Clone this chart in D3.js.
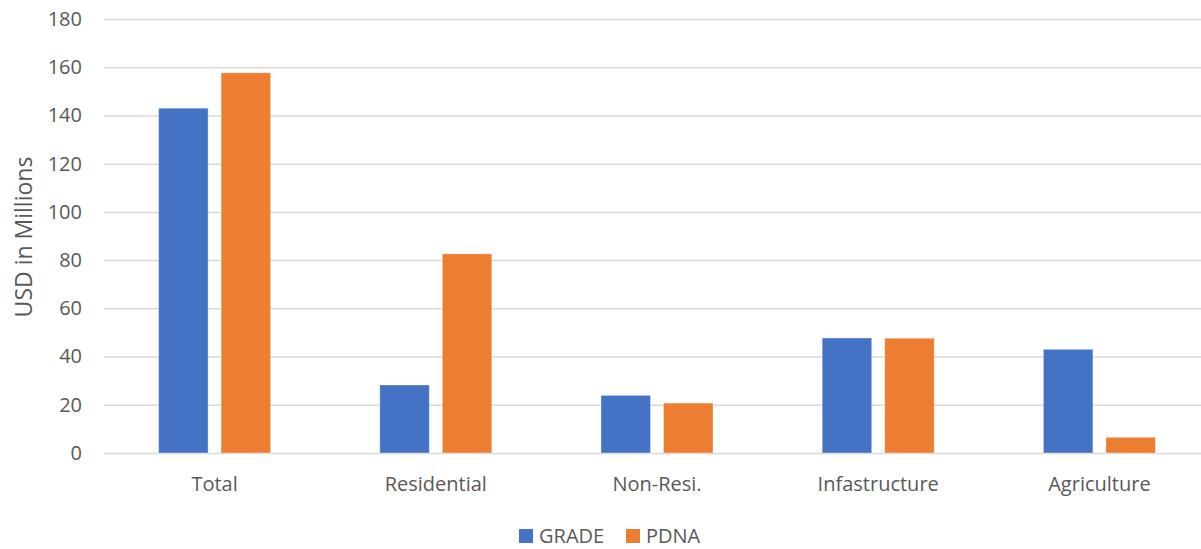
<!DOCTYPE html>
<html>
<head>
<meta charset="utf-8">
<script src="https://cdn.jsdelivr.net/npm/d3@7/dist/d3.min.js"></script>
<style>
  html, body { margin: 0; padding: 0; background: #fff; }
  svg { display: block; }
  text { font-family: "Open Sans", "Noto Sans", sans-serif; fill: #595959; }
</style>
</head>
<body>
<svg id="chart" width="1201" height="549"></svg>
<script>
// Damage estimates by sector (USD millions)
const categories = ["Total", "Residential", "Non-Resi.", "Infastructure", "Agriculture"];
const seriesNames = ["GRADE", "PDNA"];
const gradeValues = [143.0, 28.2, 23.9, 47.7, 43.0];
const pdnaValues = [157.7, 82.6, 20.7, 47.6, 6.5];
const yTicks = [0, 20, 40, 60, 80, 100, 120, 140, 160, 180];
const colors = ["#4472C4", "#ED7D31"];

const FONT = "'Open Sans', 'Noto Sans', sans-serif";
const FS = "20px";

const svg = d3.select("#chart");
const margin = { left: 104, right: -9, top: 19, bottom: 96 };
const W = 1201, H = 549;

const x = d3.scaleBand()
  .domain(categories)
  .range([margin.left, W - margin.right])
  .paddingInner(0).paddingOuter(0);

const y = d3.scaleLinear()
  .domain([0, 180])
  .range([H - margin.bottom, margin.top]);

// offsets of the two series within each category
const barW = 49.5, barGap = 13;
const xs = d3.scaleOrdinal()
  .domain(seriesNames)
  .range([-(barW + barGap / 2), barGap / 2]);

// gridlines and value labels
const yAxis = d3.axisLeft(y).tickValues(yTicks).tickSize(-(x.range()[1] - x.range()[0])).tickPadding(22);
const gy = svg.append("g")
  .attr("transform", `translate(${margin.left},0)`)
  .call(yAxis);
gy.select(".domain").remove();
gy.selectAll(".tick line").attr("stroke", "#D9D9D9").attr("stroke-width", 1.5);
gy.selectAll(".tick text")
  .attr("fill", "#595959")
  .style("font-size", FS)
  .style("font-family", FONT);

// bars
const rows = categories.map((c, i) => ({
  cat: c,
  vals: [
    { s: "GRADE", v: gradeValues[i] },
    { s: "PDNA", v: pdnaValues[i] }
  ]
}));

const groups = svg.append("g").selectAll("g")
  .data(rows).join("g")
  .attr("transform", d => `translate(${x(d.cat) + x.bandwidth() / 2},0)`);

groups.selectAll("rect")
  .data(d => d.vals).join("rect")
  .attr("x", d => xs(d.s))
  .attr("width", barW)
  .attr("y", d => y(d.v))
  .attr("height", d => y(0) - y(d.v))
  .attr("fill", (d, i) => colors[i])
  .attr("stroke", "#fff")
  .attr("stroke-opacity", 0.35)
  .attr("stroke-width", 1);

// category labels
const xAxis = d3.axisBottom(x).tickSize(0).tickPadding(24);
const gx = svg.append("g")
  .attr("transform", `translate(0,${y(0)})`)
  .call(xAxis);
gx.select(".domain").remove();
gx.selectAll(".tick text")
  .attr("fill", "#595959")
  .style("font-size", FS)
  .style("font-family", FONT);

// y axis title
svg.append("text")
  .attr("transform", `translate(32,${(y(0) + y(180)) / 2 + 1}) rotate(-90)`)
  .attr("text-anchor", "middle")
  .style("font-size", "23px")
  .text("USD in Millions");

// legend
const legend = svg.append("g").attr("transform", "translate(519,529)");
const legendX = [0, 107];
seriesNames.forEach((name, i) => {
  const g = legend.append("g").attr("transform", `translate(${legendX[i]},0)`);
  g.append("rect").attr("width", 14).attr("height", 14).attr("fill", colors[i]);
  g.append("text").attr("x", 20).attr("y", 14).style("font-size", FS).text(name);
});
</script>
</body>
</html>
